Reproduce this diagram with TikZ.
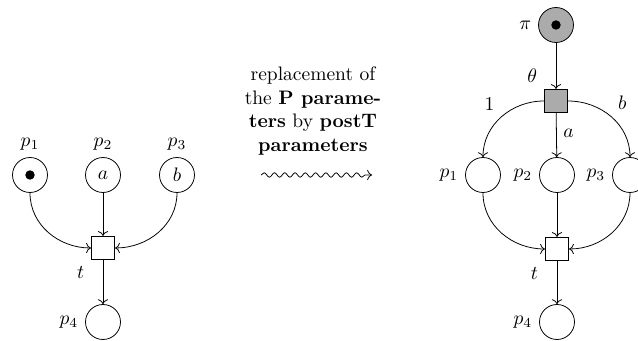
\documentclass[tikz,border=0pt]{standalone}
\usetikzlibrary{arrows.meta, positioning, decorations.pathmorphing}

\begin{document}
\begin{tikzpicture} [
    x=0.018cm, y=-0.018cm,
    place/.style={draw, circle, minimum size=6.3mm, inner sep=0pt},
    transition/.style={draw, rectangle, minimum size=4.2mm, inner sep=0pt},
    token/.style={fill, circle, minimum size=1.7mm, inner sep=0pt},
    shaded/.style={fill=black!33},
    every edge/.style={draw, ->}
  ]
  \useasboundingbox (0,0) rectangle (638,341);

  % Nodes and Positions
  % LEFT NET
  \node (p1) [place, label=above:$p_1$] at (30,175) {};
  \node (p2) [place, label=above:$p_2$] at (103,175) {$a$};
  \node (p3) [place, label=above:$p_3$] at (177,175) {$b$};
  \node (tok1) [token] at (p1) {};
  \node (t) [transition, label=below left:$t$] at (103,248) {};
  \node (p4) [place, label=left:$p_4$] at (103,322) {};

  % MIDDLE
  \node (repl) [align=center] at (313,111)
    {replacement of\\ the \textbf{P parame-}\\ \textbf{ters} by \textbf{postT}\\ \textbf{parameters}};
  \coordinate (sqa) at (261,175);
  \coordinate (sqb) at (372,175);

  % RIGHT NET
  \node (pi) [place, shaded, label=left:$\pi$] at (556,25) {};
  \node (tokpi) [token] at (pi) {};
  \node (theta) [transition, shaded, label=above left:$\theta$] at (556,101) {};
  \node (q1) [place, label=left:$p_1$] at (483,175) {};
  \node (q2) [place, label=left:$p_2$] at (557,175) {};
  \node (q3) [place, label=left:$p_3$] at (630,175) {};
  \node (u) [transition, label=below left:$t$] at (557,249) {};
  \node (q4) [place, label=left:$p_4$] at (557,322) {};

  % Edges
  \path (p1) edge [out=-90, in=180] (t);
  \path (p2) edge (t);
  \path (p3) edge [out=-90, in=0] (t);
  \path (t) edge (p4);

  \draw [->, decorate, decoration={snake, amplitude=0.4mm, segment length=1.85mm, post length=1.2mm}] (sqa) -- (sqb);

  \path (pi) edge (theta);
  \path (theta) edge [out=180, in=90] node [above left, pos=0.5] {$1$} (q1);
  \path (theta) edge node [right, pos=0.45] {$a$} (q2);
  \path (theta) edge [out=0, in=90] node [above right, pos=0.5] {$b$} (q3);

  \path (q1) edge [out=-90, in=180] (u);
  \path (q2) edge (u);
  \path (q3) edge [out=-90, in=0] (u);
  \path (u) edge (q4);

\end{tikzpicture}
\end{document}
